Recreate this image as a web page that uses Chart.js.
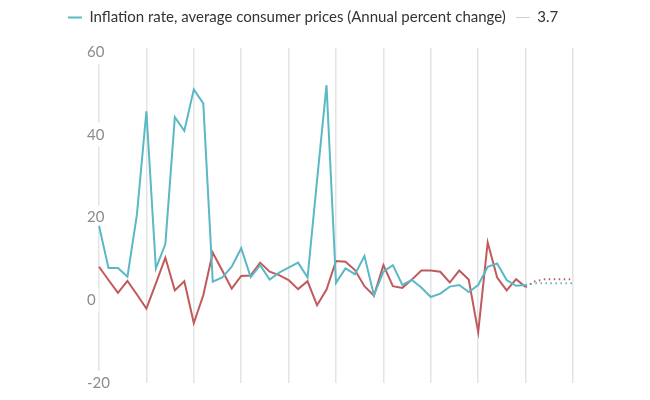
<!DOCTYPE html>
<html>
<head>
<meta charset="utf-8">
<script src="https://cdn.jsdelivr.net/npm/chart.js@4"></script>
<style>
  body { margin: 0; background: #fff; }
  #wrap { width: 650px; height: 400px; }
</style>
</head>
<body>
<div id="wrap"><canvas id="myChart"></canvas></div>
<script>
// years 1980 - 2030, solid up to 2025, projections after
let years = [];
for (let y = 1980; y <= 2030; y++) years.push(String(y));

let inflation = [18, 7.8, 7.8, 5.7, 20.7, 45.7, 7.7, 13.6, 44.3, 41, 51, 47.6, 4.5, 5.5, 8.1, 12.6,
  5.6, 8.5, 5, 6.7, 7.9, 9.1, 5.5, 29, 52, 4.2, 7.7, 6.3, 10.7, 1.2, 6.9, 8.5, 3.7, 4.9, 3.1, 0.8,
  1.6, 3.3, 3.7, 2, 3.7, 8.1, 8.9, 4.9, 3.5, 3.7, 4.1, 4.1, 4.1, 4.1, 4.1];
let comparison = [8.1, 4.9, 1.8, 4.7, 1.4, -2, 4.1, 10.3, 2.4, 4.6, -5.5, 1.2, 11.5, 7.2, 2.8, 5.9,
  6, 9.1, 6.9, 6.1, 4.9, 2.7, 4.6, -1.2, 2.6, 9.5, 9.3, 7.3, 3.4, 1.1, 8.5, 3.4, 3, 5, 7.2, 7.2,
  6.9, 4.3, 7.2, 5, -7.7, 14, 5.5, 2.4, 5.1, 3.2, 4.6, 5.1, 5.1, 5.1, 5.1];
let yTicks = [-20, 0, 20, 40, 60];
let legendText = ["Inflation rate, average consumer prices (Annual percent change)", "3.7"];

const lastActual = years.indexOf("2025");
const teal = "#5bb8c5";
const red = "#c05a5c";

const dotted = (ctx) => (ctx.p0DataIndex >= lastActual ? [1.5, 3.5] : undefined);

// extra room under the legend
const legendGap = {
  id: "legendGap",
  beforeInit(chart) {
    const fit = chart.legend.fit;
    chart.legend.fit = function () {
      fit.bind(chart.legend)();
      this.height += 13;
    };
  },
};

document.addEventListener("DOMContentLoaded", function () {
  const data = {
    labels: years,
    datasets: [
      {
        label: legendText[0],
        data: inflation,
        borderColor: teal,
        borderWidth: 2,
        pointRadius: 0,
        tension: 0,
        segment: { borderDash: dotted },
      },
      {
        label: legendText[1],
        data: comparison,
        borderColor: red,
        borderWidth: 2,
        pointRadius: 0,
        tension: 0,
        segment: { borderDash: dotted },
      },
    ],
  };

  const config = {
    type: "line",
    data: data,
    plugins: [legendGap],
    options: {
      responsive: true,
      maintainAspectRatio: false,
      animation: false,
      layout: { padding: { left: 58, right: 77, top: 0, bottom: 17 } },
      plugins: {
        tooltip: { enabled: false },
        legend: {
          position: "top",
          align: "start",
          labels: {
            font: { family: "Lato", size: 15 },
            color: "#333",
            padding: 10,
            usePointStyle: true,
            pointStyleWidth: 14,
            generateLabels: () => [
              { text: legendText[0], pointStyle: "line", strokeStyle: teal, lineWidth: 2, fontColor: "#333", datasetIndex: 0 },
              { text: legendText[1], pointStyle: "line", strokeStyle: "#d0d0d0", lineWidth: 1, fontColor: "#333", datasetIndex: 1 },
            ],
          },
        },
      },
      scales: {
        x: {
          grid: {
            z: -1,
            drawTicks: false,
            color: (ctx) => (ctx.index % 5 === 0 ? "#e4e4e4" : "transparent"),
            lineWidth: 1.5,
          },
          border: { display: false },
          ticks: { display: false, autoSkip: false },
        },
        y: {
          min: -20,
          max: 61,
          afterBuildTicks: (s) => {
            s.ticks = yTicks.map((v) => ({ value: v }));
          },
          afterFit: (s) => {
            s.width = 41;
          },
          grid: { display: false },
          border: { display: false },
          ticks: {
            mirror: true,
            crossAlign: "near",
            padding: -12,
            color: "#8c8c8c",
            font: { family: "Lato", size: 15 },
            showLabelBackdrop: true,
            backdropColor: "#fff",
            backdropPadding: 3,
          },
        },
      },
    },
  };
  new Chart(document.getElementById("myChart"), config);
});
</script>
</body>
</html>
